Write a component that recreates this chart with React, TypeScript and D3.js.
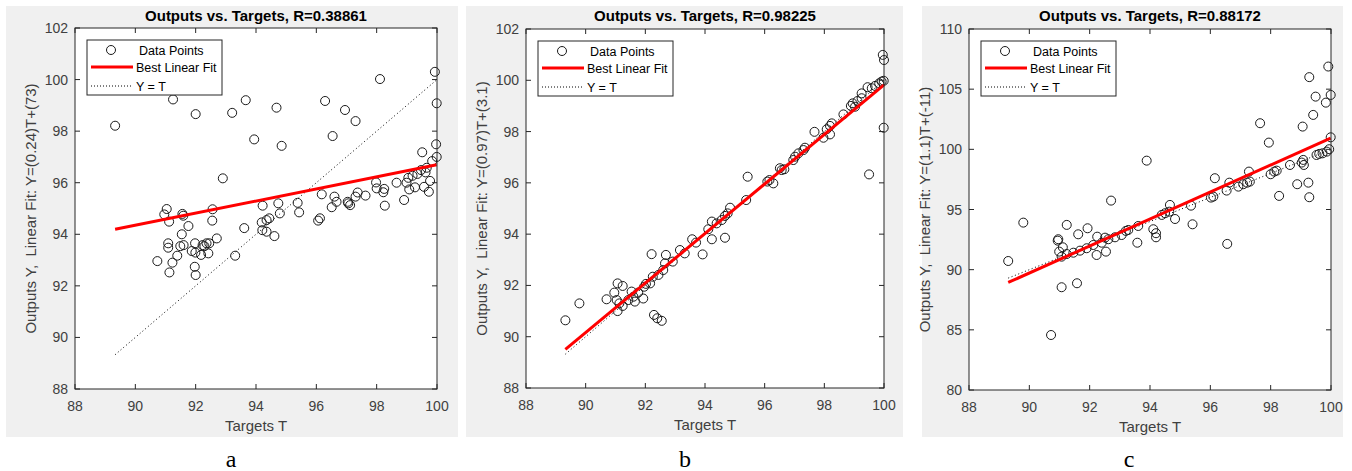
import * as d3 from 'd3'

// ---- data ----
const targetsA = [89.33, 91.25, 92.0, 93.21, 93.66, 92.9, 91.04, 90.96, 91.12, 91.56, 91.59, 91.76, 91.54, 92.56, 92.55, 93.61, 90.73, 91.09, 91.09, 91.13, 91.23, 91.39, 91.49, 91.6, 91.87, 91.98, 91.97, 92.0, 91.99, 92.18, 92.23, 92.29, 92.36, 92.42, 92.45, 92.7, 93.31, 93.94, 94.68, 94.85, 96.29, 96.54, 96.95, 97.3, 98.11, 99.93, 99.99, 99.97, 99.99, 99.51, 99.84, 99.66, 99.47, 99.35, 99.19, 99.05, 98.99, 99.62, 99.77, 99.08, 99.27, 99.57, 99.73, 98.66, 98.91, 98.27, 98.22, 98.25, 97.98, 98.0, 97.63, 97.37, 97.3, 97.06, 97.12, 97.04, 96.67, 96.6, 96.51, 96.18, 96.06, 96.12, 95.38, 95.43, 94.74, 94.79, 94.22, 94.35, 94.44, 94.19, 94.21, 94.35, 94.61]
const outputsA = [98.21, 99.23, 98.66, 98.71, 99.2, 96.17, 94.98, 94.77, 94.49, 94.79, 94.72, 94.32, 94.0, 94.97, 94.53, 94.24, 92.96, 93.65, 93.48, 92.52, 92.9, 93.17, 93.54, 93.58, 93.35, 93.65, 92.74, 92.42, 93.29, 93.2, 93.58, 93.54, 93.65, 93.26, 93.65, 93.84, 93.17, 97.68, 98.91, 97.43, 99.17, 97.81, 98.82, 98.39, 100.02, 100.3, 99.08, 97.49, 97.0, 97.18, 96.84, 96.58, 96.49, 96.34, 96.27, 96.19, 96.0, 96.4, 96.07, 95.74, 95.82, 95.84, 95.65, 96.0, 95.33, 95.11, 95.63, 95.76, 96.01, 95.78, 95.5, 95.62, 95.46, 95.2, 95.13, 95.26, 95.26, 95.46, 95.05, 95.55, 94.53, 94.62, 95.22, 94.85, 95.2, 94.81, 95.11, 94.55, 94.62, 94.46, 94.16, 94.1, 93.93]

const targetsB = [89.32, 89.79, 90.7, 90.96, 91.07, 91.04, 91.07, 91.24, 91.24, 91.13, 91.43, 91.54, 91.6, 91.65, 91.76, 91.93, 91.96, 92.02, 92.16, 92.21, 92.25, 92.29, 92.4, 92.55, 92.44, 92.6, 92.69, 92.66, 92.92, 93.16, 93.32, 93.57, 93.7, 93.92, 94.23, 94.67, 99.96, 100.0, 99.99, 99.5, 99.92, 99.99, 99.84, 99.7, 99.59, 99.45, 99.25, 99.25, 99.11, 98.95, 98.89, 99.03, 98.64, 98.25, 98.19, 98.08, 97.97, 98.19, 97.67, 97.35, 97.3, 97.13, 97.02, 96.96, 96.51, 96.57, 96.66, 96.29, 96.16, 96.09, 95.43, 95.38, 94.84, 94.76, 94.67, 94.56, 94.39, 94.23, 94.11]
const outputsB = [90.64, 91.3, 91.46, 91.72, 92.08, 91.43, 91.0, 91.98, 91.2, 91.3, 91.43, 91.76, 91.56, 91.37, 91.72, 91.49, 91.95, 92.06, 92.08, 93.22, 92.34, 90.85, 90.72, 90.62, 92.41, 92.6, 93.19, 92.86, 92.93, 93.38, 93.25, 93.8, 93.67, 93.21, 93.8, 93.86, 100.99, 100.79, 98.15, 96.33, 99.95, 99.98, 99.88, 99.78, 99.69, 99.73, 99.49, 99.3, 99.19, 99.1, 99.0, 98.97, 98.67, 98.32, 98.22, 98.09, 97.76, 97.89, 97.99, 97.37, 97.28, 97.15, 97.02, 96.89, 96.57, 96.5, 96.53, 95.98, 96.11, 96.05, 96.24, 95.33, 95.03, 94.81, 94.71, 94.55, 94.42, 94.49, 94.19]

const targetsC = [89.3, 90.72, 91.07, 91.58, 90.94, 91.11, 90.99, 91.07, 91.62, 92.23, 92.25, 92.4, 92.54, 93.58, 91.24, 91.46, 91.68, 91.9, 92.12, 92.62, 92.84, 93.06, 93.28, 89.8, 91.24, 90.96, 91.93, 92.71, 93.89, 92.51, 93.2, 93.61, 99.91, 99.28, 99.99, 99.49, 99.83, 99.41, 97.65, 99.06, 99.99, 97.94, 99.94, 99.86, 99.72, 99.61, 99.52, 99.08, 99.03, 99.1, 98.64, 98.2, 98.12, 98.0, 98.88, 99.25, 99.28, 98.28, 97.28, 97.31, 97.22, 97.09, 96.93, 96.63, 96.54, 96.15, 96.1, 96.02, 95.36, 94.66, 94.83, 94.64, 94.5, 94.39, 95.41, 94.11, 94.2, 94.2, 96.56]
const outputsC = [90.72, 84.57, 88.54, 88.87, 92.41, 91.86, 91.5, 91.08, 92.94, 91.22, 92.74, 92.24, 91.5, 92.24, 91.3, 91.41, 91.58, 91.78, 92.05, 92.53, 92.69, 92.88, 93.3, 93.91, 93.72, 92.53, 93.44, 95.74, 99.06, 92.66, 93.22, 93.63, 106.88, 106.0, 104.52, 104.38, 103.88, 102.86, 102.17, 101.89, 101.0, 100.56, 100.01, 99.81, 99.67, 99.62, 99.53, 99.12, 98.9, 98.7, 98.7, 98.23, 98.15, 97.93, 97.1, 97.23, 96.02, 96.13, 98.15, 97.32, 97.23, 97.1, 96.9, 97.23, 96.57, 97.6, 96.07, 95.99, 95.32, 95.38, 94.21, 94.82, 94.69, 94.55, 93.77, 93.36, 93.03, 92.69, 92.14]

const titles = ['Outputs vs. Targets, R=0.38861', 'Outputs vs. Targets, R=0.98225', 'Outputs vs. Targets, R=0.88172']
const yLabels = ['Outputs Y,  Linear Fit: Y=(0.24)T+(73)', 'Outputs Y,  Linear Fit: Y=(0.97)T+(3.1)', 'Outputs Y,  Linear Fit: Y=(1.1)T+(-11)']
const fitSlopes = [0.235, 0.966, 1.122]
const fitIntercepts = [73.2, 3.22, -11.26]
const xTicks = [88, 90, 92, 94, 96, 98, 100]
const yTicksAB = [88, 90, 92, 94, 96, 98, 100, 102]
const yTicksC = [80, 85, 90, 95, 100, 105, 110]
const legendLabels = ['Data Points', 'Best Linear Fit', 'Y = T']
const panelLetters = ['a', 'b', 'c']

// ---- layout ----
const W = 1352
const H = 471
const FONT = '"Liberation Sans", Arial, Helvetica, sans-serif'
const AX = '#262626'

const panels = [
  { T: targetsA, Y: outputsA, yTicks: yTicksAB, bg: [6, 6, 452, 431], plot: [75, 28, 437, 389], letterX: 231 },
  { T: targetsB, Y: outputsB, yTicks: yTicksAB, bg: [466, 6, 437, 431], plot: [526, 29, 884, 388], letterX: 685 },
  { T: targetsC, Y: outputsC, yTicks: yTicksC, bg: [922, 6, 421, 431], plot: [969, 29, 1331, 390], letterX: 1129 },
]

function Panel({ p, i }: { p: any; i: number }) {
  const [l, t, r, b] = p.plot
  const x = d3.scaleLinear().domain([88, 100]).range([l, r])
  const yt = p.yTicks
  const y = d3.scaleLinear().domain([yt[0], yt[yt.length - 1]]).range([b, t])
  const tMin = d3.min(p.T) as number
  const tMax = d3.max(p.T) as number
  const fit = (v: number) => fitSlopes[i] * v + fitIntercepts[i]
  const line = d3.line<number[]>().x((d) => x(d[0])).y((d) => y(d[1]))
  const tick = 5
  const lx = l + 12
  const ly = t + 12
  return (
    <g>
      <rect x={p.bg[0]} y={p.bg[1]} width={p.bg[2]} height={p.bg[3]} fill="#f0f0f0" />
      <rect x={l} y={t} width={r - l} height={b - t} fill="#fff" />
      <path d={line([[tMin, tMin], [tMax, tMax]]) as string} stroke="#000" strokeWidth={1} strokeDasharray="1 2.6" fill="none" />
      {p.T.map((tv: number, k: number) => (
        <circle key={k} cx={x(tv)} cy={y(p.Y[k])} r={4.5} fill="none" stroke="#1a1a1a" strokeWidth={1} />
      ))}
      <path d={line([[tMin, fit(tMin)], [tMax, fit(tMax)]]) as string} stroke="#ff0000" strokeWidth={3} fill="none" />
      {/* axes box and ticks */}
      <rect x={l} y={t} width={r - l} height={b - t} fill="none" stroke={AX} strokeWidth={1} />
      {xTicks.map((v) => (
        <g key={'x' + v}>
          <line x1={x(v)} x2={x(v)} y1={b} y2={b - tick} stroke={AX} />
          <line x1={x(v)} x2={x(v)} y1={t} y2={t + tick} stroke={AX} />
          <text x={x(v)} y={b + 22} textAnchor="middle" fontSize={14} fill="#404040">{v}</text>
        </g>
      ))}
      {yt.map((v: number) => (
        <g key={'y' + v}>
          <line x1={l} x2={l + tick} y1={y(v)} y2={y(v)} stroke={AX} />
          <line x1={r} x2={r - tick} y1={y(v)} y2={y(v)} stroke={AX} />
          <text x={l - 7} y={y(v) + 5} textAnchor="end" fontSize={14} fill="#404040">{v}</text>
        </g>
      ))}
      <text x={(l + r) / 2} y={21} textAnchor="middle" fontSize={15} fontWeight="bold" fill="#000">{titles[i]}</text>
      <text x={(l + r) / 2} y={b + 42} textAnchor="middle" fontSize={15} fill="#404040">Targets T</text>
      <text transform={`translate(${l - 39},${(t + b) / 2}) rotate(-90)`} textAnchor="middle" fontSize={15} fill="#404040" style={{ whiteSpace: 'pre' }}>{yLabels[i]}</text>
      {/* legend */}
      <rect x={lx} y={ly} width={135} height={55} fill="#fff" stroke={AX} strokeWidth={1} />
      <circle cx={lx + 24} cy={ly + 10} r={4.5} fill="none" stroke="#1a1a1a" />
      <line x1={lx + 4} x2={lx + 46} y1={ly + 27} y2={ly + 27} stroke="#ff0000" strokeWidth={3} />
      <line x1={lx + 4} x2={lx + 46} y1={ly + 46} y2={ly + 46} stroke="#000" strokeDasharray="1 2" />
      <text x={lx + 52} y={ly + 15} fontSize={12.5} fill="#000">{legendLabels[0]}</text>
      <text x={lx + 49} y={ly + 32} fontSize={12.5} fill="#000">{legendLabels[1]}</text>
      <text x={lx + 49} y={ly + 51} fontSize={12.5} fill="#000">{legendLabels[2]}</text>
      <text x={p.letterX} y={467} textAnchor="middle" fontSize={24} fontFamily='"Liberation Serif", "Times New Roman", serif' fill="#000">{panelLetters[i]}</text>
    </g>
  )
}

export default function App() {
  return (
    <svg width={W} height={H} style={{ position: 'absolute', left: 0, top: 0, background: '#fff' }} fontFamily={FONT}>
      {panels.map((p, i) => (
        <Panel key={i} p={p} i={i} />
      ))}
    </svg>
  )
}
